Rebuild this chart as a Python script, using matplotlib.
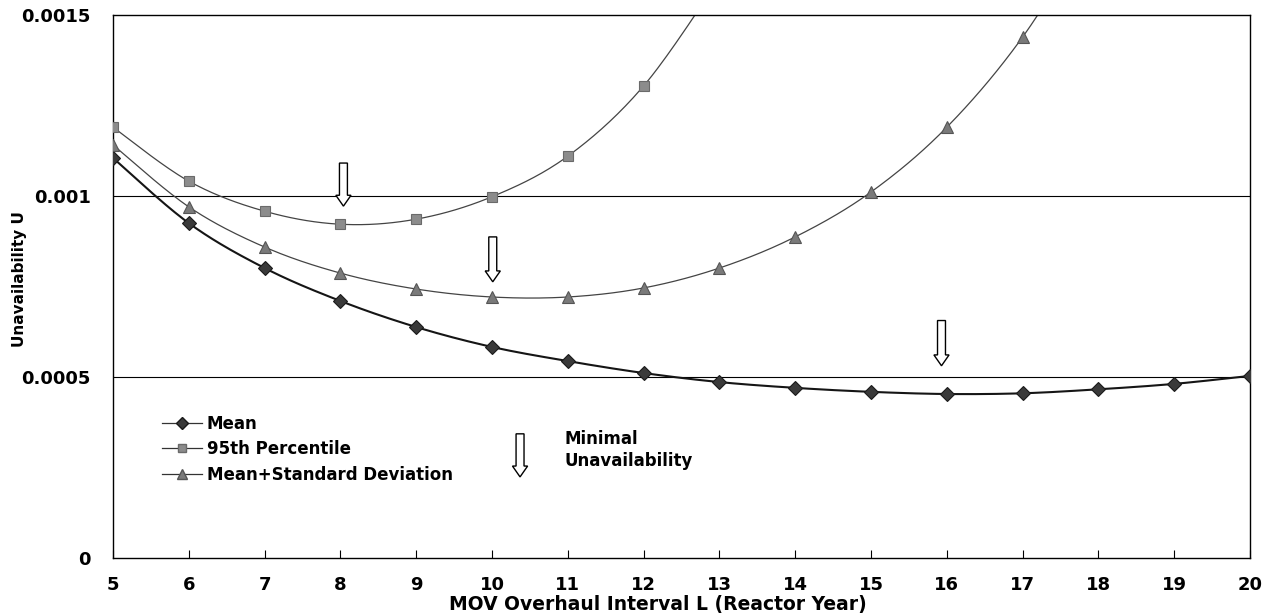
import numpy as np
import matplotlib
matplotlib.use("Agg")
import matplotlib.pyplot as plt
from matplotlib.patches import FancyArrow
from matplotlib.lines import Line2D

plt.rcParams['font.family'] = ['DejaVu Sans']
plt.rcParams['font.weight'] = 'bold'

# ---- data ----
interval = [5, 6, 7, 8, 9, 10, 11, 12, 13, 14, 15, 16, 17, 18, 19, 20]
mean_u = [0.001105, 0.000925, 0.000801, 0.000710, 0.000638, 0.000583, 0.000544,
          0.000511, 0.000486, 0.000470, 0.000459, 0.000453, 0.000455, 0.000466,
          0.000481, 0.000503]
pct95_x = [5, 6, 7, 8, 9, 10, 11, 12, 13]
pct95_u = [0.001190, 0.001041, 0.000958, 0.000922, 0.000936, 0.000998, 0.001110,
           0.001304, 0.00160]
msd_x = [5, 6, 7, 8, 9, 10, 11, 12, 13, 14, 15, 16, 17, 18]
msd_u = [0.001141, 0.000970, 0.000859, 0.000787, 0.000743, 0.000721, 0.000721,
         0.000746, 0.000801, 0.000887, 0.001011, 0.001190, 0.001439, 0.00177]
arrow_x = [8.04, 10.01, 15.93]
arrow_top = [0.001091, 0.000887, 0.000656]
arrow_tip = [0.000972, 0.000763, 0.000531]
xticks = list(range(5, 21))
yticks = [0, 0.0005, 0.001, 0.0015]
ytick_labels = ['0', '0.0005', '0.001', '0.0015']


def smooth(x, y, n=30):
    """Bezier smoothing through points (like Excel smoothed line)."""
    x = np.asarray(x, float); y = np.asarray(y, float)
    px = np.concatenate([[x[0]], x, [x[-1]]])
    py = np.concatenate([[y[0]], y, [y[-1]]])
    xs, ys = [], []
    for i in range(1, len(px) - 2):
        p0, p1, p2, p3 = (np.array([px[j], py[j]]) for j in (i - 1, i, i + 1, i + 2))
        c1 = p1 + (p2 - p0) / 6
        c2 = p2 - (p3 - p1) / 6
        t = np.linspace(0, 1, n)[:, None]
        b = ((1 - t) ** 3) * p1 + 3 * ((1 - t) ** 2) * t * c1 + 3 * (1 - t) * t ** 2 * c2 + t ** 3 * p2
        xs.append(b[:, 0]); ys.append(b[:, 1])
    return np.concatenate(xs), np.concatenate(ys)


fig = plt.figure(figsize=(12.72, 6.14), dpi=100)
ax = fig.add_axes([113 / 1272, 1 - 558 / 614, (1250 - 113) / 1272, (558 - 15) / 614])

# gridlines
for g in [0.0005, 0.001]:
    ax.axhline(g, color='black', lw=0.8, zorder=1)

series = [
    (interval, mean_u, 'D', '#3a3a3a', '#1a1a1a', 7, 1.5, '#151515', 'Mean'),
    (pct95_x, pct95_u, 's', '#8c8c8c', '#6a6a6a', 6.5, 0.9, '#444444', '95th Percentile'),
    (msd_x, msd_u, '^', '#7a7a7a', '#555555', 8, 0.9, '#444444', 'Mean+Standard Deviation'),
]
handles = []
for xv, yv, m, fc, ec, ms, lw, lc, lab in series:
    sx, sy = smooth(xv, yv)
    ax.plot(sx, sy, color=lc, lw=lw, zorder=2)
    ax.plot(xv, yv, linestyle='none', marker=m, markersize=ms, markerfacecolor=fc,
            markeredgecolor=ec, markeredgewidth=0.8, zorder=3)
    handles.append(Line2D([], [], color='#333333', lw=0.9, marker=m, markersize=ms * 0.85,
                          markerfacecolor=fc, markeredgecolor=ec, label=lab))

arrow_kw = dict(width=0.105, head_width=0.2, head_length=3.0e-5, length_includes_head=True,
                facecolor='white', edgecolor='black', lw=1.0, zorder=4)
# arrows marking minimum
for xa, yt, yb in zip(arrow_x, arrow_top, arrow_tip):
    ax.add_patch(FancyArrow(xa, yt, 0, yb - yt, **arrow_kw))
# legend arrow
ax.add_patch(FancyArrow(10.37, 0.000343, 0, 0.000224 - 0.000343, **arrow_kw))
ax.text(10.95, 0.000298, 'Minimal\nUnavailability', fontsize=12, fontweight='bold',
        va='center', ha='left', linespacing=1.25)

leg = ax.legend(handles=handles, loc='upper left', bbox_to_anchor=(0.0430, 0.264),
                frameon=False, fontsize=12, handlelength=2.4, handletextpad=0.3,
                labelspacing=0.45, borderaxespad=0, borderpad=0)
for t in leg.get_texts():
    t.set_fontweight('bold')

ax.set_xlim(5, 20)
ax.set_ylim(0, 0.0015)
ax.set_xticks(xticks)
ax.set_xticklabels([str(v) for v in xticks], fontsize=13, fontweight='bold')
ax.set_yticks(yticks)
ax.set_yticklabels(ytick_labels, fontsize=13, fontweight='bold')
ax.tick_params(axis='x', direction='in', length=6, width=0.8, pad=13)
ax.tick_params(axis='y', length=0, pad=16)
for s in ax.spines.values():
    s.set_linewidth(1.0)
    s.set_color('black')

ax.set_xlabel('MOV Overhaul Interval L (Reactor Year)', fontsize=13.5, fontweight='bold')
ax.xaxis.set_label_coords(0.479, -0.068)
ax.set_ylabel('Unavailability U', fontsize=11, fontweight='bold')
ax.yaxis.set_label_coords(-0.076, 0.513)

fig.savefig('out.png', dpi=100)
